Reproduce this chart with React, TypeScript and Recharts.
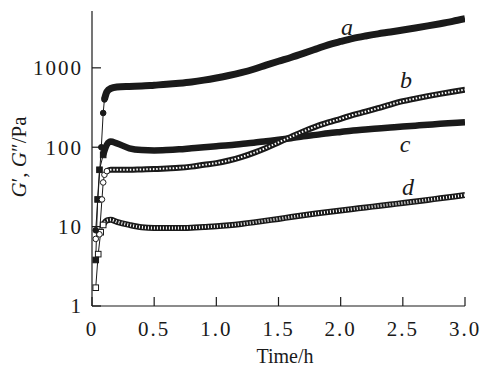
import React from 'react';
import { LineChart, Line, XAxis, YAxis } from 'recharts';

// Time (h) grid for the dense part of every curve
const MAIN_T = [0.2, 0.3, 0.4, 0.5, 0.6, 0.7, 0.8, 0.9, 1.0, 1.1, 1.2, 1.3, 1.4, 1.5, 1.6, 1.7, 1.8, 1.9, 2.0, 2.1, 2.2, 2.3, 2.4, 2.5, 2.6, 2.7, 2.8, 2.9, 3.0];

// Curve a (filled circles)
const A_EARLY_T = [0.03, 0.075, 0.09, 0.1];
const A_EARLY_V = [9, 100, 270, 400];
const A_HEAD_T = [0.1, 0.12, 0.15];
const A_HEAD_V = [400, 500, 550];
const A_MAIN = [572, 583, 590, 605, 620, 640, 665, 700, 745, 800, 870, 960, 1080, 1210, 1350, 1520, 1720, 1950, 2150, 2350, 2520, 2680, 2830, 3000, 3180, 3380, 3600, 3850, 4150];

// Curve b (open circles)
const B_EARLY_T = [0.03, 0.06, 0.08, 0.09, 0.1, 0.12];
const B_EARLY_V = [7, 8, 22, 36, 45, 50];
const B_HEAD_T = [0.12, 0.15];
const B_HEAD_V = [50, 52];
const B_MAIN = [52, 52, 52.5, 53, 54, 55, 57, 60, 63, 68, 75, 85, 98, 115, 135, 158, 182, 205, 228, 255, 280, 310, 345, 380, 410, 440, 470, 500, 530];

// Curve c (filled squares)
const C_EARLY_T = [0.03, 0.045, 0.06, 0.09];
const C_EARLY_V = [3.8, 22, 52, 80];
const C_HEAD_T = [0.09, 0.12, 0.15];
const C_HEAD_V = [80, 108, 118];
const C_MAIN = [112, 97, 92, 91, 92, 94, 97, 100, 103, 106, 110, 114, 119, 124, 130, 137, 143, 150, 156, 162, 167, 172, 177, 182, 187, 192, 197, 202, 207];

// Curve d (open squares)
const D_EARLY_T = [0.03, 0.05, 0.07, 0.09];
const D_EARLY_V = [1.7, 4.5, 8.5, 10.5];
const D_HEAD_T = [0.09, 0.12, 0.15];
const D_HEAD_V = [10.5, 12, 12.2];
const D_MAIN = [11.5, 10.5, 9.8, 9.6, 9.6, 9.6, 9.7, 9.9, 10.1, 10.4, 10.8, 11.3, 11.9, 12.5, 13.2, 13.9, 14.6, 15.3, 16, 16.7, 17.4, 18.2, 19.0, 19.8, 20.7, 21.7, 22.7, 23.8, 25];

const X_TICKS = [0, 0.5, 1.0, 1.5, 2.0, 2.5, 3.0];
const Y_TICKS = [1, 10, 100, 1000];

const pts = (ts: number[], vs: number[]) => ts.map((t, i) => ({ t, v: vs[i] }));
const band = (ht: number[], hv: number[], mv: number[]) => [...pts(ht, hv), ...pts(MAIN_T, mv)];

const aEarly = pts(A_EARLY_T, A_EARLY_V);
const bEarly = pts(B_EARLY_T, B_EARLY_V);
const cEarly = pts(C_EARLY_T, C_EARLY_V);
const dEarly = pts(D_EARLY_T, D_EARLY_V);
const aBand = band(A_HEAD_T, A_HEAD_V, A_MAIN);
const bBand = band(B_HEAD_T, B_HEAD_V, B_MAIN);
const cBand = band(C_HEAD_T, C_HEAD_V, C_MAIN);
const dBand = band(D_HEAD_T, D_HEAD_V, D_MAIN);

const FONT = '"Liberation Serif", "DejaVu Serif", serif';
const INK = '#1a1a1a';

const circleDot = (fill: string) => (p: any) => (
  <circle key={`c${p.index}-${fill}`} cx={p.cx} cy={p.cy} r={2.8} fill={fill} stroke={INK} strokeWidth={1} />
);
const squareDot = (fill: string) => (p: any) => (
  <rect key={`s${p.index}-${fill}`} x={p.cx - 2.8} y={p.cy - 2.8} width={5.6} height={5.6} fill={fill} stroke={INK} strokeWidth={1} />
);

const fmtX = (v: number) => (v === 0 ? '0' : v.toFixed(1));

export default function App() {
  return (
    <div style={{ position: 'absolute', left: 0, top: 0, width: 484, height: 379, background: '#fff' }}>
      <LineChart width={484} height={379} margin={{ top: 11, right: 19, left: 0, bottom: 0 }}>
        <XAxis
          dataKey="t"
          type="number"
          domain={[0, 3]}
          ticks={X_TICKS}
          tickFormatter={fmtX}
          height={73}
          tickSize={-9}
          tickMargin={24}
          axisLine={{ stroke: INK, strokeWidth: 1.2 }}
          tickLine={{ stroke: INK, strokeWidth: 1.2 }}
          tick={{ fill: INK, fontFamily: FONT, fontSize: 21, letterSpacing: 2 }}
          allowDataOverflow
        />
        <XAxis xAxisId="top" orientation="top" type="number" domain={[0, 3]} height={0} tick={false} tickLine={false} axisLine={{ stroke: INK, strokeWidth: 1.2 }} />
        <YAxis
          dataKey="v"
          scale="log"
          domain={[1, 5200]}
          ticks={Y_TICKS}
          width={92}
          tickSize={-9}
          tickMargin={18}
          axisLine={{ stroke: INK, strokeWidth: 1.2 }}
          tickLine={{ stroke: INK, strokeWidth: 1.2 }}
          tick={{ fill: INK, fontFamily: FONT, fontSize: 21, letterSpacing: 2 }}
          allowDataOverflow
        />
        <YAxis yAxisId="right" orientation="right" scale="log" domain={[1, 5200]} width={0} tick={false} tickLine={false} axisLine={{ stroke: INK, strokeWidth: 1.2 }} />

        {/* early, sparse parts with visible markers */}
        <Line data={dEarly} dataKey="v" type="linear" stroke={INK} strokeWidth={1} dot={squareDot('#fff')} isAnimationActive={false} />
        <Line data={cEarly} dataKey="v" type="linear" stroke={INK} strokeWidth={1} dot={squareDot(INK)} isAnimationActive={false} />
        <Line data={bEarly} dataKey="v" type="linear" stroke={INK} strokeWidth={1} dot={circleDot('#fff')} isAnimationActive={false} />
        <Line data={aEarly} dataKey="v" type="linear" stroke={INK} strokeWidth={1} dot={circleDot(INK)} isAnimationActive={false} />

        {/* dense parts: bands of overlapping markers */}
        <Line data={dBand} dataKey="v" type="monotone" stroke={INK} strokeWidth={6} dot={false} isAnimationActive={false} />
        <Line data={dBand} dataKey="v" type="monotone" stroke="#fff" strokeWidth={3} strokeDasharray="1 2" dot={false} isAnimationActive={false} />
        <Line data={cBand} dataKey="v" type="monotone" stroke={INK} strokeWidth={6.5} dot={false} isAnimationActive={false} />
        <Line data={bBand} dataKey="v" type="monotone" stroke={INK} strokeWidth={6} dot={false} isAnimationActive={false} />
        <Line data={bBand} dataKey="v" type="monotone" stroke="#fff" strokeWidth={2} strokeDasharray="1.5 1.8" dot={false} isAnimationActive={false} />
        <Line data={aBand} dataKey="v" type="monotone" stroke={INK} strokeWidth={7} dot={false} isAnimationActive={false} />
      </LineChart>

      <svg width={484} height={379} style={{ position: 'absolute', left: 0, top: 0, pointerEvents: 'none' }}>
        <g fontFamily={FONT} fill={INK}>
          <text x={347} y={35} fontSize={24} fontStyle="italic" textAnchor="middle">a</text>
          <text x={406} y={88} fontSize={24} fontStyle="italic" textAnchor="middle">b</text>
          <text x={405} y={152} fontSize={24} fontStyle="italic" textAnchor="middle">c</text>
          <text x={408} y={195} fontSize={24} fontStyle="italic" textAnchor="middle">d</text>
          <text x={285} y={363} fontSize={20} textAnchor="middle">Time/h</text>
          <text transform="translate(26,157) rotate(-90)" fontSize={21} textAnchor="middle">
            <tspan fontStyle="italic">G</tspan>
            <tspan>′, </tspan>
            <tspan fontStyle="italic">G</tspan>
            <tspan>″/Pa</tspan>
          </text>
        </g>
      </svg>
    </div>
  );
}
